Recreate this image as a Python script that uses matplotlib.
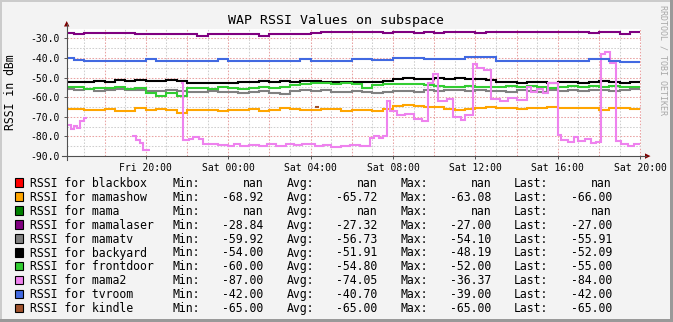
import matplotlib
matplotlib.use('Agg')
import matplotlib.pyplot as plt
import numpy as np
from matplotlib.patches import Rectangle, Polygon
from matplotlib.lines import Line2D

W, H = 673, 322
MONO = 'DejaVu Sans Mono'
plt.rcParams['font.family'] = MONO

# sample times in hours since Fri 00:00, 30 min steps
hours = np.arange(16.0, 44.01, 0.5)

mamashow = [-66, -66, -66.5, -66.5, -66, -67, -67, -65.5, -66.5, -66,
            -66.5, -68, -66.5, -66.5, -66.5, -67, -66.5, -66.5, -66, -67,
            -66.5, -65.5, -66, -66.5, -66.5, -66, -66, -67, -66.5, -66.5,
            -67, -66, -64.5, -64, -64.5, -65, -65, -66, -66.5, -66,
            -65.5, -65, -65.5, -65.5, -66, -65.5, -65.5, -65, -65.5, -65.5,
            -65.5, -65.5, -66.5, -65.5, -65.5, -66, -66]
mamalaser = [-27.5, -28, -27.5, -27.5, -27.5, -27.5, -27.5, -28, -28, -28,
             -28, -28, -28, -28.8, -28, -28, -28, -28, -28, -28.8,
             -28, -28, -28, -28, -27.2, -27, -27, -27, -27, -27,
             -27, -27.5, -27, -27, -27.5, -27, -27.5, -27, -27, -27,
             -27.5, -27, -27, -27, -27, -27, -27, -27, -27, -27,
             -27, -27.5, -27, -27, -27.8, -27, -27]
mamatv = [-56, -56.5, -56, -57, -56.5, -56, -56.5, -56.5, -57, -57,
          -56.5, -57, -57.5, -57.5, -57, -57.5, -57.5, -58, -57.5, -57,
          -58, -58.5, -57, -56.5, -57, -56.5, -57.5, -57.5, -57, -57.5,
          -58, -57.5, -57, -57, -57.5, -56.5, -57, -56.5, -56.5, -57,
          -56.5, -57, -57, -57.5, -56.5, -57, -57.5, -56.5, -57, -56.5,
          -57, -56.5, -56.5, -57, -56.5, -56, -56]
backyard = [-52.5, -52, -52, -51.5, -52, -51, -51.5, -51, -51.5, -51.5,
            -51, -51.5, -53, -53, -53, -53, -53, -52, -52, -51.5,
            -52, -51.5, -52, -51.5, -51.5, -52, -52.5, -52, -52, -52,
            -52, -51.5, -50.5, -50, -50.5, -50.5, -50, -50.5, -50, -50.5,
            -50.5, -51, -52.5, -52.5, -53, -52.5, -52, -53, -52, -52.5,
            -53, -52.5, -51.5, -52, -53, -52, -52]
frontdoor = [-55, -55, -56, -55.5, -55.5, -55, -56, -55.5, -58, -59.5,
             -58, -59.5, -55.5, -55.5, -56, -55, -55.5, -56, -55.5, -55,
             -55.5, -55, -54, -53.5, -53, -53, -53.5, -53, -53.5, -55.5,
             -54, -53.5, -53.5, -53.5, -53.5, -54, -54.5, -55, -55, -54.5,
             -55, -55, -55, -54.5, -55, -54.5, -55, -55.5, -55, -54.5,
             -55, -54.5, -55, -54.5, -55, -55, -55]
tvroom = [-40, -41, -41.5, -41.5, -41.5, -41.5, -41.5, -41.5, -40.5, -41.5,
          -41.5, -41.5, -41.5, -41.5, -41.5, -40.5, -41.5, -41.5, -41.5, -41.5,
          -41.5, -41.5, -41.5, -40.5, -41.5, -41.5, -41.5, -41.5, -40.5, -40.5,
          -41, -41, -40, -40, -40, -40.5, -40.5, -40.5, -40.5, -39.5,
          -39.5, -39.5, -41.5, -41.5, -41.5, -41.5, -41.5, -41.5, -41.5, -41.5,
          -41.5, -40.5, -40.5, -41.5, -42, -42, -42]

nan = np.nan
mama2_t = [16.15, 16.35, 16.5, 16.65, 16.8, 17.0, 17.15,
           19.35, 19.55, 19.7, 19.85, 20.2,
           21.7, 21.8, 22.1, 22.3, 22.6, 22.8, 23.5, 24.0, 24.3, 24.6, 25.0,
           25.5, 25.9, 26.3, 26.8, 27.2, 27.6, 28.2, 28.6, 29.0, 29.5, 29.9,
           30.4, 30.9, 31.1, 31.3, 31.5,
           31.7, 31.85, 32.2, 32.6, 33.0, 33.4, 33.7, 33.95, 34.2, 34.6, 34.9,
           35.3, 35.5,
           35.9, 36.1, 36.4, 36.75, 37.2, 37.6, 38.0, 38.5, 38.7, 39.0, 39.3, 39.55,
           40.0, 40.15, 40.5, 40.8, 41.0, 41.3, 41.6, 41.85,
           42.1, 42.3, 42.55, 42.85, 43.05, 43.4, 43.7, 44.0]
mama2_v = [-74, -76, -74.5, -75.5, -72, -70.5, nan,
           -80, -82, -83.5, -87, nan,
           -53, -82, -81.5, -80.5, -81.5, -84, -84.5, -85, -84, -85, -84.5,
           -85, -84, -85, -84, -84.5, -84, -85, -84.5, -85.5, -85, -84.5,
           -85, -81, -80, -81, -80,
           -62, -67, -69, -68.5, -71, -72, -53, -48, -62, -61, -70,
           -71.5, -69,
           -43, -45, -46, -61, -62, -60.5, -61.5, -55, -57.5, -56, -58, -53,
           -79, -82, -83, -80.5, -82.5, -81.5, -83.5, -83,
           -38, -37, -42.5, -82.5, -84, -85, -84, -84]
kindle_t = [28.2, 28.4]
kindle_v = [-65, -65]

names = ['blackbox', 'mamashow', 'mama', 'mamalaser', 'mamatv',
         'backyard', 'frontdoor', 'mama2', 'tvroom', 'kindle']
colors = ['#FF0000', '#FFA500', '#008000', '#800080', '#808080',
          '#000000', '#32CD32', '#EE82EE', '#4169E1', '#A0522D']
v_min = ['nan', '-68.92', 'nan', '-28.84', '-59.92', '-54.00', '-60.00', '-87.00', '-42.00', '-65.00']
v_avg = ['nan', '-65.72', 'nan', '-27.32', '-56.73', '-51.91', '-54.80', '-74.05', '-40.70', '-65.00']
v_max = ['nan', '-63.08', 'nan', '-27.00', '-54.10', '-48.19', '-52.00', '-36.37', '-39.00', '-65.00']
v_last = ['nan', '-66.00', 'nan', '-27.00', '-55.91', '-52.09', '-55.00', '-84.00', '-42.00', '-65.00']

xtick_pos = [20, 24, 28, 32, 36, 40, 44]
xtick_labels = ['Fri 20:00', 'Sat 00:00', 'Sat 04:00', 'Sat 08:00',
                'Sat 12:00', 'Sat 16:00', 'Sat 20:00']

series = {
    'mamashow': (hours, mamashow),
    'mamalaser': (hours, mamalaser),
    'mamatv': (hours, mamatv),
    'backyard': (hours, backyard),
    'frontdoor': (hours, frontdoor),
    'mama2': (mama2_t, mama2_v),
    'tvroom': (hours, tvroom),
    'kindle': (kindle_t, kindle_v),
}


def fx(x):
    return x / W


def fy(y):
    return 1 - y / H


fig = plt.figure(figsize=(W / 100, H / 100), dpi=100, facecolor='#F3F3F3')
ax = fig.add_axes([fx(66.7), fy(156.1), fx(641) - fx(66.7), fy(28.5) - fy(156.1)])
ax.set_facecolor('white')
ax.set_xlim(16.165, 44.04)
ax.set_ylim(-90, -25)
for s in ax.spines.values():
    s.set_visible(False)

# grid
dots = (0, (1.5, 1.5))
for h in np.arange(17, 45):
    c = '#E9A3A3' if h % 2 == 0 else '#CFCFCF'
    ax.axvline(h, color=c, lw=0.75, ls=dots, zorder=1)
for v in np.arange(-85, -24, 5):
    c = '#E9A3A3' if v % 10 == 0 else '#CFCFCF'
    ax.axhline(v, color=c, lw=0.75, ls=dots, zorder=1)

for name, col in zip(names, colors):
    if name in series:
        t, v = series[name]
        ax.plot(t, v, color=col, lw=1.5, drawstyle='steps-post',
                solid_capstyle='butt', solid_joinstyle='miter', zorder=3)

ax.set_yticks(np.arange(-90, -29, 10))
ax.set_yticklabels(['%.1f' % v for v in np.arange(-90, -29, 10)])
ax.set_xticks(xtick_pos)
ax.set_xticklabels(xtick_labels)
ax.tick_params(axis='y', length=2.5, width=0.7, color='#555555', pad=2.5, labelsize=7)
ax.tick_params(axis='x', length=2.5, width=0.7, color='#555555', pad=2.5, labelsize=7)

# axes with arrows
axc = '#505050'
fig.add_artist(Line2D([fx(62), fx(646)], [fy(156.1)] * 2, transform=fig.transFigure, color=axc, lw=0.8))
fig.add_artist(Line2D([fx(66.7)] * 2, [fy(160), fy(24)], transform=fig.transFigure, color=axc, lw=0.8))
fig.add_artist(Polygon([[fx(645), fy(153.4)], [fx(650.5), fy(156.1)], [fx(645), fy(158.8)]],
                       closed=True, transform=fig.transFigure, color='#7F0000', lw=0))
fig.add_artist(Polygon([[fx(64), fy(26.5)], [fx(66.7), fy(21)], [fx(69.4), fy(26.5)]],
                       closed=True, transform=fig.transFigure, color='#7F0000', lw=0))

fig.text(0.5, fy(24.3), 'WAP RSSI Values on subspace', ha='center', va='baseline', fontsize=9.5)
fig.text(fx(10.8), fy(91.7), 'RSSI in dBm', rotation=90, ha='center', va='center', fontsize=8.3)
fig.text(fx(663.5), fy(60), 'RRDTOOL / TOBI OETIKER', rotation=270, ha='center', va='center',
         fontsize=6, color='#A8A8A8')

# legend
for i, (name, col) in enumerate(zip(names, colors)):
    yb = 186.7 + i * 13.96
    fig.add_artist(Rectangle((fx(15), fy(yb)), 8 / W, 8.5 / H, transform=fig.transFigure,
                             facecolor=col, edgecolor='black', lw=0.8))
    fs = 8.3
    fig.text(fx(30), fy(yb), 'RSSI for ' + name, ha='left', va='baseline', fontsize=fs)
    fig.text(fx(172.7), fy(yb), 'Min:', ha='left', va='baseline', fontsize=fs)
    fig.text(fx(263.5), fy(yb), v_min[i], ha='right', va='baseline', fontsize=fs)
    fig.text(fx(286.7), fy(yb), 'Avg:', ha='left', va='baseline', fontsize=fs)
    fig.text(fx(377.5), fy(yb), v_avg[i], ha='right', va='baseline', fontsize=fs)
    fig.text(fx(400.7), fy(yb), 'Max:', ha='left', va='baseline', fontsize=fs)
    fig.text(fx(491), fy(yb), v_max[i], ha='right', va='baseline', fontsize=fs)
    fig.text(fx(514), fy(yb), 'Last:', ha='left', va='baseline', fontsize=fs)
    fig.text(fx(612), fy(yb), v_last[i], ha='right', va='baseline', fontsize=fs)

# shaded frame
fig.add_artist(Rectangle((0, 0), 2 / W, 1, transform=fig.transFigure, color='#CBCBCB', lw=0))
fig.add_artist(Rectangle((0, fy(2)), 1, 2 / H, transform=fig.transFigure, color='#CBCBCB', lw=0))
fig.add_artist(Rectangle((fx(670), 0), 3 / W, 1, transform=fig.transFigure, color='#999999', lw=0))
fig.add_artist(Rectangle((0, 0), 1, 3 / H, transform=fig.transFigure, color='#999999', lw=0))

fig.savefig('out.png', dpi=100, facecolor=fig.get_facecolor())
